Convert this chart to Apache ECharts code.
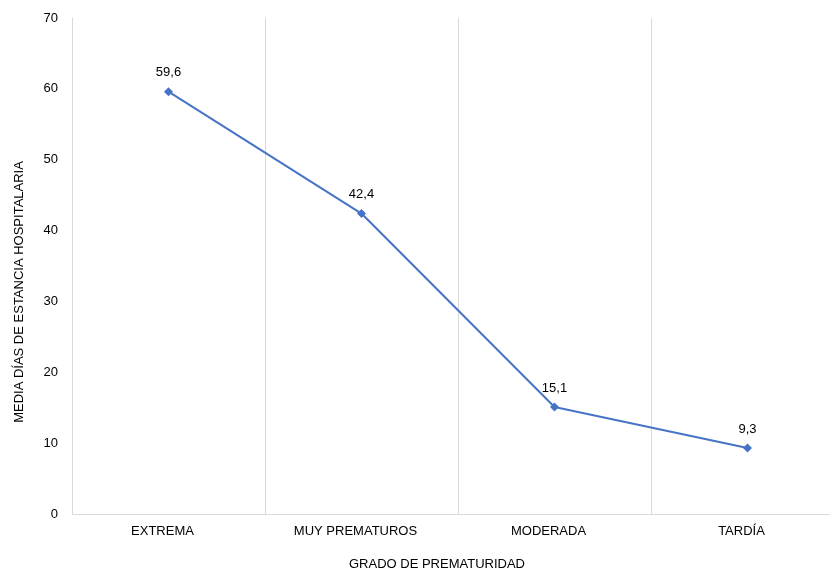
<!DOCTYPE html>
<html>
<head>
<meta charset="utf-8">
<script src="https://cdn.jsdelivr.net/npm/echarts@6/dist/echarts.min.js"></script>
<style>
  html, body { margin: 0; padding: 0; background: #fff; overflow: hidden; width: 830px; height: 571px; }
  /* the plot runs a little past the right edge of the page */
  #chart { width: 844px; height: 571px; }
</style>
</head>
<body>
<div id="chart"></div>
<script>
// Mean hospital stay (days) by degree of prematurity
const categories = ['EXTREMA', 'MUY PREMATUROS', 'MODERADA', 'TARDÍA'];
const meanStay = [59.6, 42.4, 15.1, 9.3];
const yTicks = { min: 0, max: 70, interval: 10 };
const xTitle = 'GRADO DE PREMATURIDAD';
const yTitle = 'MEDIA DÍAS DE ESTANCIA HOSPITALARIA';

const font = 'Helvetica, Arial, "Liberation Sans", sans-serif';
const chart = echarts.init(document.getElementById('chart'), null, { renderer: 'canvas' });

chart.setOption({
  animation: false,
  textStyle: { fontFamily: font },
  grid: { left: 72, top: 18, right: 0, bottom: 57, containLabel: false },
  xAxis: {
    type: 'category',
    data: categories,
    boundaryGap: true,
    axisLine: { show: true, lineStyle: { color: '#d9d9d9', width: 1 } },
    axisTick: { show: false },
    splitLine: { show: true, lineStyle: { color: '#d9d9d9', width: 1 } },
    axisLabel: { color: '#000', fontSize: 13, margin: 11, fontFamily: font, padding: [0, 12, 0, 0] }
  },
  yAxis: {
    type: 'value',
    min: yTicks.min,
    max: yTicks.max,
    interval: yTicks.interval,
    axisLine: { show: true, lineStyle: { color: '#d9d9d9', width: 1 } },
    axisTick: { show: false },
    splitLine: { show: false },
    axisLabel: { color: '#000', fontSize: 13, margin: 14, fontFamily: font }
  },
  graphic: [{
    type: 'text',
    left: 349,
    top: 558,
    style: { text: xTitle, fill: '#000', font: '13px ' + font }
  }, {
    type: 'text',
    x: 19,
    y: 292,
    rotation: Math.PI / 2,
    style: { text: yTitle, fill: '#000', font: '13px ' + font, align: 'center', verticalAlign: 'middle' }
  }],
  series: [{
    type: 'line',
    data: meanStay,
    symbol: 'diamond',
    symbolSize: 9,
    lineStyle: { color: '#4673c6', width: 2 },
    itemStyle: { color: '#4673c6' },
    label: {
      show: true,
      position: 'top',
      distance: 8,
      color: '#000',
      fontSize: 13,
      fontFamily: font,
      formatter: p => String(p.value).replace('.', ',')
    }
  }]
});
</script>
</body>
</html>
